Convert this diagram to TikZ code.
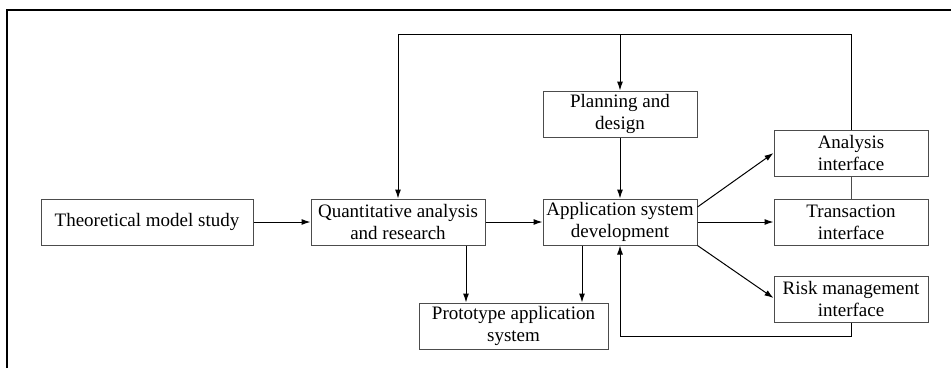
\documentclass[tikz,border=0pt]{standalone}
\usepackage{fontspec}
\setmainfont{Liberation Serif}
\usetikzlibrary{arrows.meta,positioning}

\tikzset{
  box/.style={draw=black!70, line width=1pt, minimum height=46pt, inner sep=0pt,
              align=center, font=\fontsize{19}{22}\selectfont},
  arr/.style={line width=1pt, -{Latex[length=9pt,width=6pt]}}
}

\begin{document}
\begin{tikzpicture}[x=1pt,y=-1pt]

\useasboundingbox (0,0) rectangle (951,368);

% outer frame
\draw[line width=2.2pt] (7,368) -- (7,10) -- (951,10);

\node[box, minimum width=212pt] (theo)  at (147,222) {Theoretical model study};
\node[box, minimum width=174pt] (quant) at (398,222) {Quantitative analysis\\and research};
\node[box, minimum width=154pt] (app)   at (620,222) {Application system\\development};
\node[box, minimum width=154pt] (plan)  at (620,114) {Planning and\\design};
\node[box, minimum width=189pt] (proto) at (513.5,326) {Prototype application\\system};
\node[box, minimum width=154pt] (ana)   at (851,153) {Analysis\\interface};
\node[box, minimum width=154pt] (trans) at (851,222) {Transaction\\interface};
\node[box, minimum width=154pt] (risk)  at (851,299) {Risk management\\interface};

\coordinate (ltop) at (398,34);
\coordinate (mtop) at (620,34);

\draw[arr] (theo) -- (quant);
\draw[arr] (quant) -- (app);
\draw[arr] (plan) -- (app);
\draw[arr] (app) -- (trans);
\draw[arr] ([yshift=15pt]app.east) -- (ana.west);
\draw[arr] (app.south east) -- ([yshift=1pt]risk.west);
\draw[arr] ([xshift=68pt]quant.south) -- ([xshift=68pt]quant.south |- proto.north);
\draw[arr] ([xshift=-38pt]app.south) -- ([xshift=-38pt]app.south |- proto.north);

% feedback loops
\draw[arr] (ana.north) |- (ltop) -- (quant.north);
\draw[arr] (mtop) -- (plan.north);
\draw[line width=1pt, black!70] (ana.south) -- (trans.north);
\draw[arr] (risk.south) -- ++(0,14) -| (app.south);

\end{tikzpicture}
\end{document}
